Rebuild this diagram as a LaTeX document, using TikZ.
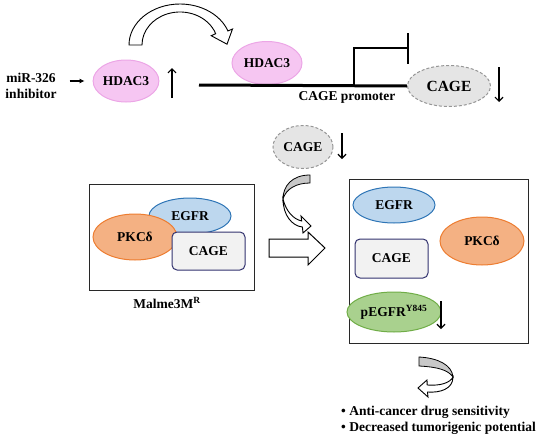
\documentclass[tikz,border=0pt]{standalone}
\usepackage{fontspec}
\setmainfont{Liberation Serif}
\usetikzlibrary{shapes.geometric,arrows.meta}
\definecolor{pinkf}{RGB}{246,198,242}
\definecolor{pinkd}{RGB}{236,166,230}
\definecolor{grayf}{RGB}{229,229,229}
\definecolor{grayd}{RGB}{150,150,150}
\definecolor{bluef}{RGB}{189,215,238}
\definecolor{blued}{RGB}{46,117,182}
\definecolor{orangef}{RGB}{244,177,131}
\definecolor{oranged}{RGB}{237,125,49}
\definecolor{greenf}{RGB}{169,209,142}
\definecolor{greend}{RGB}{112,173,71}
\definecolor{rectf}{RGB}{242,242,242}
\definecolor{rectd}{RGB}{50,50,110}
\definecolor{bandg}{RGB}{200,200,200}
\definecolor{boxd}{RGB}{40,40,40}
\begin{document}
\begin{tikzpicture}[x=1pt,y=-1pt,
  lbl/.style={font=\fontsize{13.5}{16}\selectfont\bfseries, inner sep=0pt},
  ell/.style={ellipse, draw, line width=1pt, inner sep=0pt, lbl},
  hdac/.style={ell, fill=pinkf, draw=pinkd, minimum width=64pt, minimum height=42pt},
  cagee/.style={ell, fill=grayf, draw=grayd, dash pattern=on 3pt off 2pt},
  egfr/.style={ell, fill=bluef, draw=blued, minimum width=82pt, minimum height=36pt},
  pkc/.style={ell, fill=orangef, draw=oranged, minimum width=84pt, minimum height=46pt},
  cagerect/.style={rectangle, rounded corners=5pt, draw=rectd, fill=rectf, line width=1pt, lbl, minimum width=73pt, minimum height=38pt},
  pegfr/.style={ell, fill=greenf, draw=greend, minimum width=78pt, minimum height=40pt},
  panel/.style={rectangle, draw=boxd, line width=1.2pt, inner sep=0pt, anchor=north west},
  barb/.style={-{Straight Barb[length=4pt,width=8pt]}, line width=1.2pt},
  tri/.style={-{Latex[length=5pt,width=5pt]}, line width=1.2pt},
  hollow/.style={draw=black, line width=0.9pt, fill=white},
  band/.style={draw=black, line width=0.8pt, fill=bandg},
]
\useasboundingbox (0,0) rectangle (550,442);

% ---- top row ----
\node[lbl, align=center] (mir) at (31,86) {miR-326\\inhibitor};
\node[hdac] (hdac1) at (126,81) {HDAC3};
\draw[tri, shorten <=13pt, shorten >=8pt] (mir.east |- hdac1.west) -- (hdac1.west);
\coordinate (ua1) at (172,98);
\coordinate (ua2) at (172,68);
\draw[barb] (ua1) -- (ua2);

% curved hollow arrow
\draw[hollow] (129,45) arc[start angle=-180, end angle=-20, x radius=51, y radius=41]
  -- (232.5,29) -- (227,44.2) -- (211.2,35.7) -- (215.7,33.7)
  arc[start angle=-20, end angle=-180, x radius=38, y radius=33] -- cycle;

\node[hdac, minimum width=70pt, minimum height=43pt] (hdac2) at (267,63) {HDAC3};

% promoter
\node[cagee, minimum width=83pt, minimum height=41pt, font=\fontsize{15.5}{17}\selectfont\bfseries] (cage1) at (449,86) {CAGE};
\coordinate (pl) at (199,85);
\coordinate (tss) at (354,85);
\coordinate (tcorner) at (408,48);
\draw[line width=3pt] (pl) -- (cage1.west);
\draw[line width=2.5pt] (tss) |- (tcorner);
\coordinate (tb1) at (408,33);
\coordinate (tb2) at (408,64);
\draw[line width=2.5pt] (tb1) -- (tb2);
\node[lbl] (prom) at (347,97) {CAGE promoter};
\coordinate (da1) at (499,67);
\coordinate (da2) at (499,102);
\draw[barb] (da1) -- (da2);

% ---- middle ----
\node[cagee, minimum width=60pt, minimum height=43pt] (cage2) at (303,147) {CAGE};
\coordinate (db1) at (342,133);
\coordinate (db2) at (342,159);
\draw[barb] (db1) -- (db2);

% ribbon arrow (middle)
\draw[band] (310,175) .. controls (292,175) and (283,186) .. (283,199)
  .. controls (286,189) and (296,183) .. (310,183) -- cycle;
\draw[hollow] (283,199) .. controls (283,215) and (292,226) .. (302.4,227)
  -- (303,233) -- (311,226) -- (301,216) -- (301.7,221)
  .. controls (293,219) and (286,211) .. (283,199) -- cycle;

% left panel
\node[panel, minimum width=165pt, minimum height=106pt] (boxL) at (89,184) {};
\node[egfr] (egfrL) at (190,216) {EGFR};
\node[pkc] (pkcL) at (135,237) {PKCδ};
\node[cagerect] (cageL) at (208.5,251) {CAGE};
\node[lbl] (malme) at (167,303) {Malme3M\textsuperscript{R}};

% big hollow arrow
\draw[hollow, line width=1pt] (269,239) -- (308,239) -- (308,232) -- (325,248)
  -- (308,265) -- (308,257) -- (269,257) -- cycle;

% right panel
\node[panel, minimum width=179pt, minimum height=164pt] (boxR) at (349,179) {};
\node[egfr] (egfrR) at (394,205) {EGFR};
\node[pkc, minimum height=48pt] (pkcR) at (482,241) {PKCδ};
\node[cagerect, minimum height=39pt] (cageR) at (391.5,258.5) {CAGE};
\node[pegfr] (pegfr) at (394,312) {pEGFR\textsuperscript{Y845}};
\coordinate (dc1) at (441,301);
\coordinate (dc2) at (441,329);
\draw[barb] (dc1) -- (dc2);

% ribbon arrow (bottom)
\draw[band] (419,357) .. controls (438,358) and (452,365) .. (453,377)
  .. controls (448,370) and (438,367) .. (419,366) -- cycle;
\draw[hollow] (453,377) .. controls (453,389) and (440,393) .. (427.5,392)
  -- (428,397) -- (418,388) -- (427,380) -- (427.2,385)
  .. controls (440,386) and (450,383) .. (453,377) -- cycle;

% outcomes
\node[lbl, anchor=west] (out1) at (341,412) {\textbullet\ Anti-cancer drug sensitivity};
\node[lbl, anchor=west] (out2) at (341,428) {\textbullet\ Decreased tumorigenic potential};
\end{tikzpicture}
\end{document}
